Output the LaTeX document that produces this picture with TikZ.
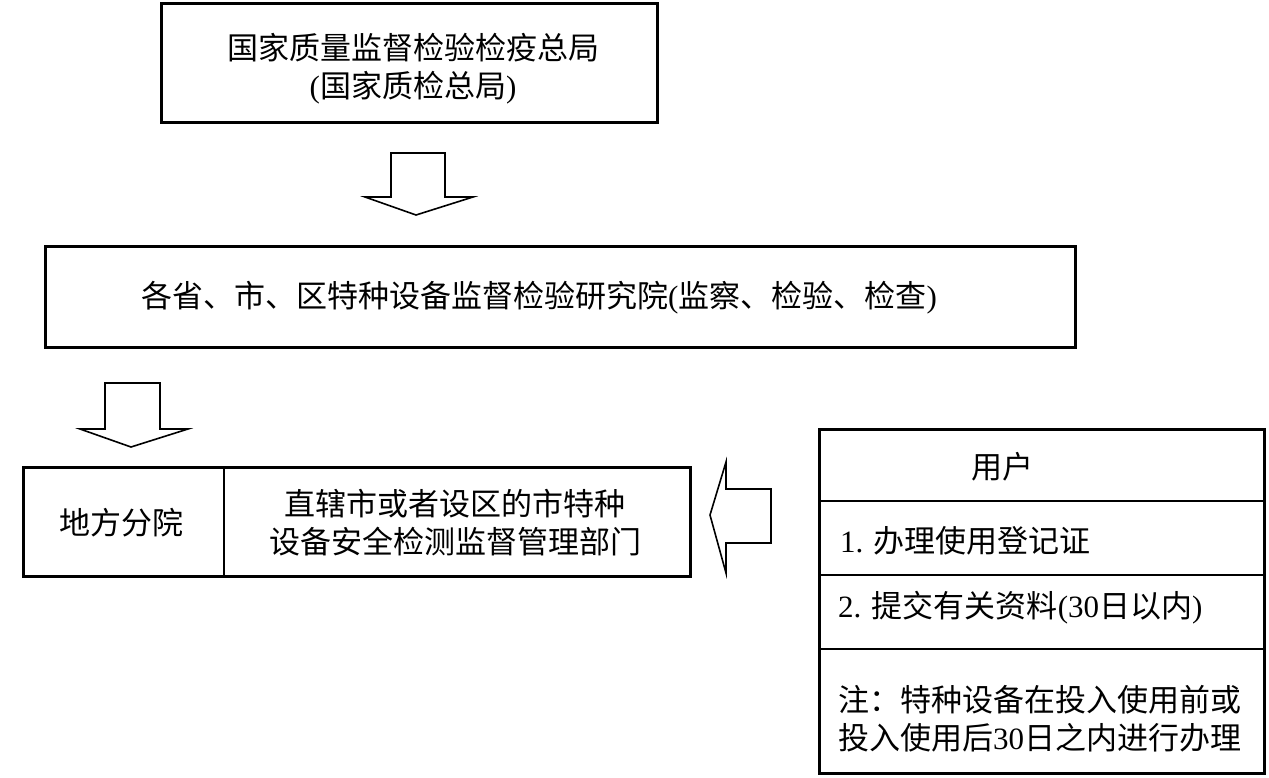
\documentclass[tikz,border=0pt]{standalone}
\usepackage{fontspec}
\newfontfamily\cjk{Noto Sans CJK SC}
\newfontfamily\lat{Liberation Serif}
\begin{document}
\begin{tikzpicture}[x=1pt,y=-1pt,
  thinline/.style={line width=1.4pt},
  blockarrow/.style={draw,line width=1.6pt,line join=miter,fill=white},
  txt/.style={font=\cjk\fontsize{31}{38}\selectfont,align=center,inner sep=0pt},
  ltxt/.style={font=\cjk\fontsize{31}{38}\selectfont,align=left,anchor=west,inner sep=0pt}]
\useasboundingbox (0,0) rectangle (1269,777);
% box 1
\draw[line width=3pt] (161,3) rectangle (657,122);
\node[txt] (t1) at (413,69) {国家质量监督检验检疫总局\\{\lat(}国家质检总局{\lat)}};
% arrow 1
\draw[blockarrow] (391,153) -- (445,153) -- (445,197) -- (473,197) -- (416,215) -- (365,197) -- (391,197) -- cycle;
% box 2
\draw[line width=3pt] (45,246) rectangle (1075,347);
\node[txt] (t2) at (539,298) {各省、市、区特种设备监督检验研究院{\lat(}监察、检验、检查{\lat)}};
% arrow 2
\draw[blockarrow] (105,383) -- (160,383) -- (160,429) -- (188,429) -- (131,447) -- (80,429) -- (105,429) -- cycle;
% box 3
\draw[line width=3pt] (23,467) rectangle (690,576);
\draw[thinline] (224,467) -- (224,576);
\node[txt] (t3) at (121,523) {地方分院};
\node[txt] (t4) at (455,523) {直辖市或者设区的市特种\\设备安全检测监督管理部门};
% arrow 3 (left)
\draw[blockarrow] (771,489) -- (771,543) -- (726,543) -- (726,573) -- (710,515) -- (726,462) -- (726,489) -- cycle;
% right box
\draw[line width=3pt] (819,429) rectangle (1264,773);
\draw[thinline] (819,501) -- (1264,501);
\draw[thinline] (819,575) -- (1264,575);
\draw[thinline] (819,649) -- (1264,649);
\node[txt] (u0) at (1002,467) {用户};
\node[ltxt] (u1) at (840,541) {{\lat 1. }办理使用登记证};
\node[ltxt] (u2) at (838,608) {{\lat 2. }提交有关资料{\lat(30}日以内{\lat)}};
\node[ltxt] (u3) at (838,719) {注：特种设备在投入使用前或\\投入使用后{\lat 30}日之内进行办理};
\end{tikzpicture}
\end{document}
